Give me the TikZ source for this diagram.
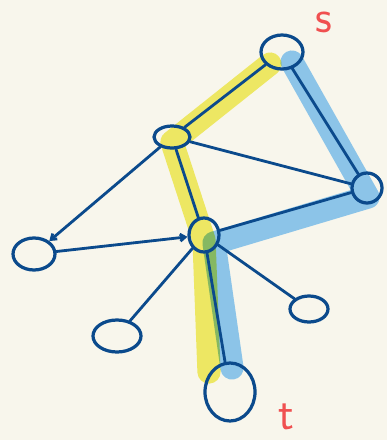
\documentclass[tikz,border=0pt]{standalone}
\usepackage{tikz}
\usetikzlibrary{arrows.meta,shapes.geometric}
\definecolor{cPaper}{HTML}{F8F6EC}
\definecolor{cInk}  {HTML}{0B4A8C}
\definecolor{cYel}  {HTML}{F4F06C}
\definecolor{cBlu}  {HTML}{8CC4E8}
\definecolor{cRed}  {HTML}{F05050}
\tikzset{
  vtx/.style  ={ellipse,draw=cInk,line width=4.6pt,inner sep=0pt},
  edge/.style ={draw=cInk,line width=4pt,line cap=round},
  dir/.style  ={edge,-{Straight Barb[length=2.5mm,width=3.5mm]}},
  hlY/.style  ={draw=cYel,line width=33pt,line cap=round,line join=round},
  hlB/.style  ={draw=cBlu,line width=33pt,line cap=round,line join=round},
  tag/.style  ={font=\sffamily\fontsize{66}{66}\selectfont,text=cRed,inner sep=0pt},
}
\begin{document}
\begin{tikzpicture}[x=0.5mm,y=-0.5mm]
\fill[cPaper] (0,0) rectangle (387,440);
\useasboundingbox (0,0) rectangle (387,440);

% ---- highlighted paths ----------------------------------------------------
\coordinate (y1) at (270,64);
\coordinate (y2) at (172,142);
\coordinate (y3) at (204,240);
\coordinate (y4) at (209,372);
\coordinate (b1) at (292,62);
\coordinate (b2) at (368,197);
\coordinate (b3) at (214,243);
\coordinate (b4) at (232,368);
\draw[hlB] (b1) -- (b2) -- (b3) -- (b4);
\draw[hlY,blend mode=multiply] (y1) -- (y2) -- (y3) -- (y4);

% ---- vertices -------------------------------------------------------------
\node[vtx,minimum width=21mm,minimum height=17mm] (s)  at (282,52)  {};
\node[vtx,minimum width=18mm,minimum height=11mm] (a)  at (172,137) {};
\node[vtx,minimum width=15mm,minimum height=15mm] (r)  at (367,188) {};
\node[vtx,minimum width=15mm,minimum height=17mm] (c)  at (204,235) {};
\node[vtx,minimum width=21mm,minimum height=16mm] (l)  at (34,254)  {};
\node[vtx,minimum width=24mm,minimum height=16mm] (bl) at (117,336) {};
\node[vtx,minimum width=19mm,minimum height=13mm] (br) at (309,309) {};
\node[vtx,minimum width=25mm,minimum height=29mm] (t)  at (230,392) {};

\node[tag] (slbl) at (324,22)  {s};
\node[tag] (tlbl) at (286,417) {t};

% ---- edges ----------------------------------------------------------------
\foreach \u/\v in {s/a,s/r,a/r,a/c,r/c,c/bl,c/br,c/t}{\draw[edge] (\u) -- (\v);}
\draw[dir] (a) -- (l);
\draw[dir] (l) -- (c);
\end{tikzpicture}
\end{document}
